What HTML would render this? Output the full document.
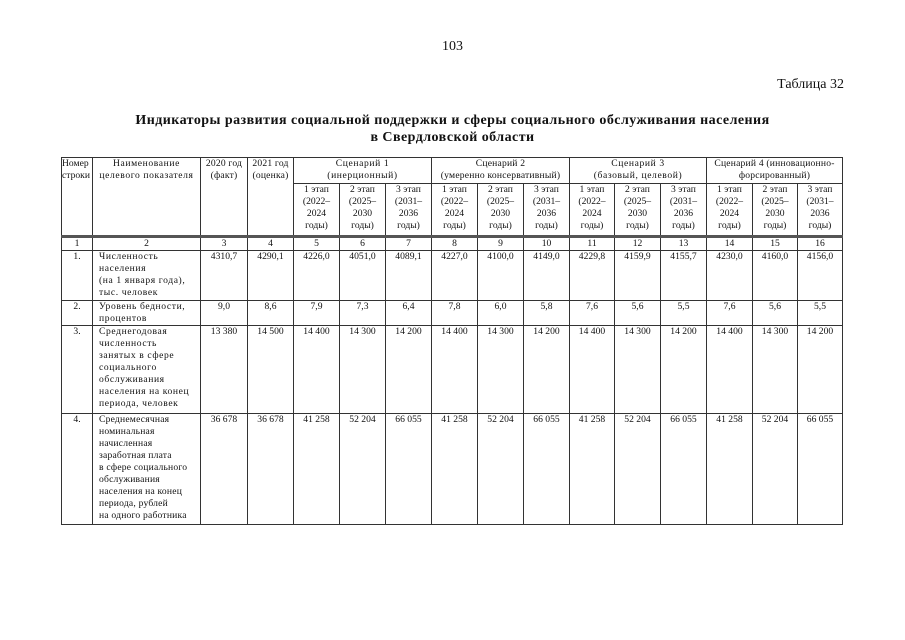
<!DOCTYPE html>
<html><head><meta charset="utf-8"><style>
body{margin:0;background:#fff;width:905px;height:640px;position:relative;font-family:"Liberation Serif","DejaVu Serif",serif;color:#111}
.a{position:absolute}
table{position:absolute;left:61px;top:157px;border-collapse:collapse;table-layout:fixed;font-size:9.6px;line-height:12px}
td{border:1px solid #333;padding:0 1px;vertical-align:top;text-align:center;overflow:hidden;white-space:nowrap}
td.l{text-align:left;padding-left:6px}
.t td,td.l,.t2 td{letter-spacing:0.6px}
tr.thick td{border-top:3px solid #555}
</style></head><body>
<div class="a" style="left:0;width:905px;top:39px;text-align:center;font-size:14px">103</div>
<div class="a" style="right:61px;top:77px;font-size:14px">Таблица 32</div>
<div class="a" style="left:0;width:905px;top:112px;text-align:center;font-size:14px;letter-spacing:0.45px;font-weight:bold;line-height:17px">Индикаторы развития социальной поддержки и сферы социального обслуживания населения<br>в Свердловской области</div>
<table>
<colgroup><col style="width:31px"><col style="width:108px"><col style="width:47px"><col style="width:46px"><col style="width:46px"><col style="width:46px"><col style="width:46px"><col style="width:46px"><col style="width:46px"><col style="width:46px"><col style="width:45px"><col style="width:46px"><col style="width:46px"><col style="width:46px"><col style="width:45px"><col style="width:45px"></colgroup>
<tr class="t" style="height:26px"><td rowspan="2" style="text-align:left;padding:0;letter-spacing:0">Номер<br>строки</td><td rowspan="2">Наименование<br>целевого показателя</td><td rowspan="2" style="letter-spacing:0.2px">2020 год<br>(факт)</td><td rowspan="2" style="letter-spacing:0.2px">2021 год<br>(оценка)</td><td colspan="3">Сценарий 1<br>(инерционный)</td><td colspan="3" style="letter-spacing:0.2px">Сценарий 2<br>(умеренно консервативный)</td><td colspan="3">Сценарий 3<br>(базовый, целевой)</td><td colspan="3" style="letter-spacing:0.2px">Сценарий 4 (инновационно-<br>форсированный)</td></tr>
<tr style="height:53px">
<td>1 этап<br>(2022–<br>2024<br>годы)</td><td>2 этап<br>(2025–<br>2030<br>годы)</td><td>3 этап<br>(2031–<br>2036<br>годы)</td>
<td>1 этап<br>(2022–<br>2024<br>годы)</td><td>2 этап<br>(2025–<br>2030<br>годы)</td><td>3 этап<br>(2031–<br>2036<br>годы)</td>
<td>1 этап<br>(2022–<br>2024<br>годы)</td><td>2 этап<br>(2025–<br>2030<br>годы)</td><td>3 этап<br>(2031–<br>2036<br>годы)</td>
<td>1 этап<br>(2022–<br>2024<br>годы)</td><td>2 этап<br>(2025–<br>2030<br>годы)</td><td>3 этап<br>(2031–<br>2036<br>годы)</td></tr>
<tr class="thick" style="height:11px"><td>1</td><td>2</td><td>3</td><td>4</td><td>5</td><td>6</td><td>7</td><td>8</td><td>9</td><td>10</td><td>11</td><td>12</td><td>13</td><td>14</td><td>15</td><td>16</td></tr>
<tr style="height:50px"><td>1.</td><td class="l">Численность<br>населения<br>(на 1 января года),<br>тыс. человек</td><td>4310,7</td><td>4290,1</td><td>4226,0</td><td>4051,0</td><td>4089,1</td><td>4227,0</td><td>4100,0</td><td>4149,0</td><td>4229,8</td><td>4159,9</td><td>4155,7</td><td>4230,0</td><td>4160,0</td><td>4156,0</td></tr>
<tr style="height:25px"><td>2.</td><td class="l">Уровень бедности,<br>процентов</td><td>9,0</td><td>8,6</td><td>7,9</td><td>7,3</td><td>6,4</td><td>7,8</td><td>6,0</td><td>5,8</td><td>7,6</td><td>5,6</td><td>5,5</td><td>7,6</td><td>5,6</td><td>5,5</td></tr>
<tr style="height:88px"><td>3.</td><td class="l">Среднегодовая<br>численность<br>занятых в сфере<br>социального<br>обслуживания<br>населения на конец<br>периода, человек</td><td>13 380</td><td>14 500</td><td>14 400</td><td>14 300</td><td>14 200</td><td>14 400</td><td>14 300</td><td>14 200</td><td>14 400</td><td>14 300</td><td>14 200</td><td>14 400</td><td>14 300</td><td>14 200</td></tr>
<tr style="height:111px"><td>4.</td><td class="l" style="letter-spacing:0.2px">Среднемесячная<br>номинальная<br>начисленная<br>заработная плата<br>в сфере социального<br>обслуживания<br>населения на конец<br>периода, рублей<br>на одного работника</td><td>36 678</td><td>36 678</td><td>41 258</td><td>52 204</td><td>66 055</td><td>41 258</td><td>52 204</td><td>66 055</td><td>41 258</td><td>52 204</td><td>66 055</td><td>41 258</td><td>52 204</td><td>66 055</td></tr>
</table>
</body></html>
